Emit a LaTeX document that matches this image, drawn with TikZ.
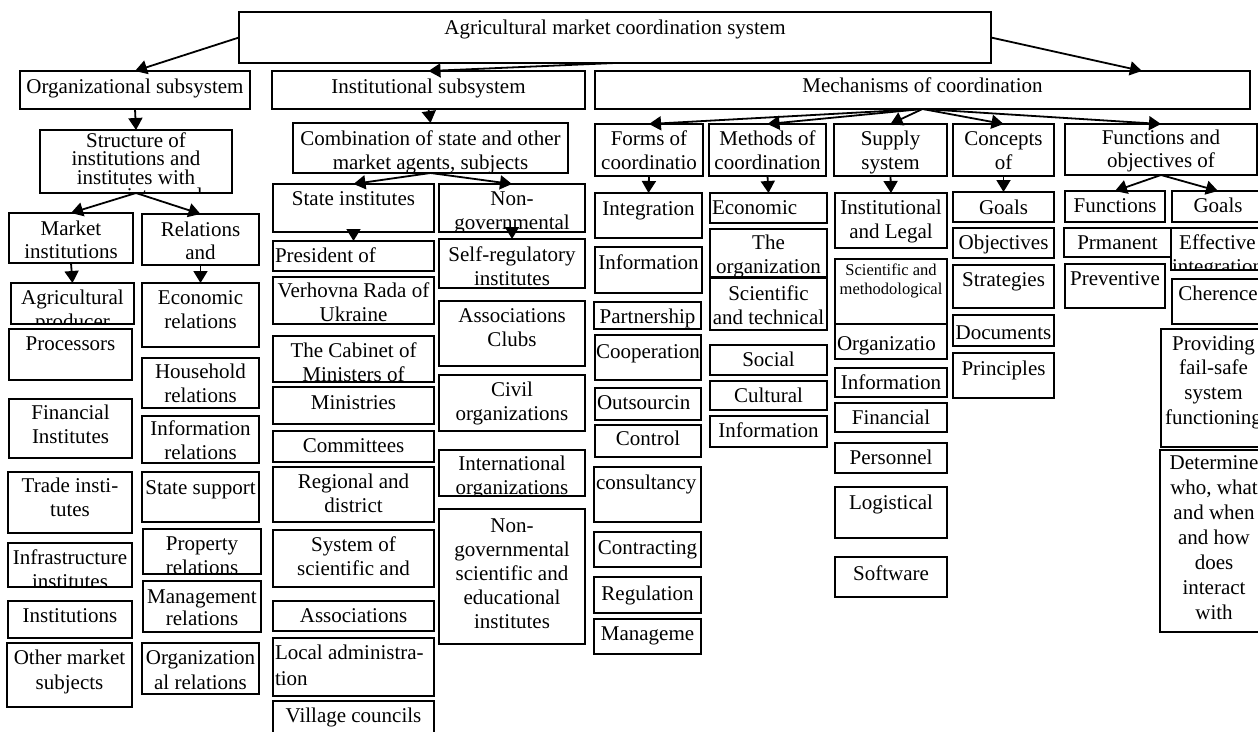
\documentclass[tikz,border=0pt]{standalone}
\usepackage{fontspec}
\setmainfont{Liberation Serif}
\usetikzlibrary{arrows.meta,calc}
\tikzset{
 boxst/.style={draw=black, line width=1.8pt, inner sep=0pt, outer sep=0pt},
 txt/.style={inner sep=0pt, outer sep=0pt, align=center, font=\fontsize{21}{24}\selectfont},
 arr/.style={line width=1.8pt, -{Triangle[length=12pt,width=14pt]}},
}
% #1 text options, #2 name, #3 x1, #4 y1, #5 x2, #6 y2, #7 first-line centre y, #8 text
\newcommand\bx[8][]{%
  \node[boxst, minimum width={#5-#3}, minimum height={#6-#4}, anchor=north west] (#2) at (#3,#4) {};
  \begin{scope}
    \clip (#2.south west) rectangle (#2.north east);
    \node[txt, anchor=north, #1] (#2-t) at ({(#3+#5)/2},{#7-8}) {\rule{0pt}{15pt}#8};
  \end{scope}}
\newcommand\bxl[8][]{%
  \node[boxst, minimum width={#5-#3}, minimum height={#6-#4}, anchor=north west] (#2) at (#3,#4) {};
  \begin{scope}
    \clip (#2.south west) rectangle (#2.north east);
    \node[txt, anchor=north west, align=left, #1] (#2-t) at ({#3+2},{#7-8}) {\rule{0pt}{15pt}#8};
  \end{scope}}
\begin{document}
\begin{tikzpicture}[x=1pt,y=-1pt]
\useasboundingbox[fill=white] (0,0) rectangle (1258,731);
% top levels
\bx{top}{239}{12}{991}{63}{27}{Agricultural market coordination system}
\bx{org}{20}{71}{250}{109}{86}{Organizational subsystem}
\bx{inst}{272}{71}{585}{109}{86}{Institutional subsystem}
\bx{mech}{595}{71}{1250}{109}{85}{Mechanisms of coordination}
% second level
\bx[font=\fontsize{21}{18.5}\selectfont]{struct}{40}{130}{232}{193}{140}{Structure of\\institutions and\\institutes with\\appropriate needs}
\bx{comb}{293}{123}{568}{173}{138}{Combination of state and other\\market agents, subjects}
\bx{forms}{595}{124}{703}{176}{138}{Forms of\\coordinatio}
\bx{meth}{709}{124}{826}{176}{138}{Methods of\\coordination}
\bx{supply}{834}{124}{947}{176}{138}{Supply\\system}
\bx{conc}{953}{124}{1054}{176}{138}{Concepts\\of}
\bx[font=\fontsize{21}{23}\selectfont]{func}{1065}{124}{1257}{175}{137}{Functions and\\objectives of}
% organizational column
\bx[font=\fontsize{21}{23}\selectfont]{mkt}{9}{213}{133}{263}{228}{Market\\institutions}
\bx[font=\fontsize{21}{23}\selectfont]{rel}{142}{214}{259}{265}{229}{Relations\\and}
\bx{agri}{11}{283}{134}{324}{297}{Agricultural\\producer}
\bx{econrel}{142}{283}{259}{347}{297}{Economic\\relations}
\bx{proc}{9}{329}{132}{380}{343}{Processors}
\bx{house}{142}{358}{259}{408}{371}{Household\\relations}
\bx{fin}{9}{399}{132}{458}{412}{Financial\\Institutes}
\bx{inforel}{142}{416}{259}{463}{428}{Information\\relations}
\bx{trade}{8}{472}{132}{533}{485}{Trade insti-\\tutes}
\bx{statesup}{142}{472}{259}{522}{487}{State support}
\bx{infra}{8}{543}{132}{587}{557}{Infrastructure\\institutes}
\bx{prop}{143}{529}{261}{574}{543}{Property\\relations}
\bx[font=\fontsize{21}{22}\selectfont]{mgmt}{143}{581}{261}{632}{596}{Management\\relations}
\bx{instn}{8}{601}{132}{638}{615}{Institutions}
\bx[font=\fontsize{21}{25}\selectfont]{other}{7}{643}{132}{707}{657}{Other market\\subjects}
\bx[font=\fontsize{21}{25}\selectfont]{orgrel}{142}{643}{259}{694}{657}{Organization\\al relations}
% institutional column
\bx{statei}{273}{184}{434}{232}{198}{State institutes}
\bx{nongov}{439}{184}{585}{232}{198}{Non-\\governmental}
\bxl{pres}{273}{241}{434}{271}{255}{President of}
\bx{selfreg}{439}{239}{585}{288}{254}{Self-regulatory\\institutes}
\bx{verh}{273}{277}{434}{324}{290}{Verhovna Rada of\\Ukraine}
\bx{assoc}{439}{301}{585}{366}{315}{Associations\\Clubs}
\bx{cab}{273}{336}{434}{382}{350}{The Cabinet of\\Ministers of}
\bx{civil}{439}{375}{585}{431}{389}{Civil\\organizations}
\bx{minis}{273}{387}{434}{424}{402}{Ministries}
\bx{comm}{273}{431}{434}{462}{445}{Committees}
\bx{intl}{439}{450}{585}{496}{463}{International\\organizations}
\bx{regio}{273}{467}{434}{522}{481}{Regional and\\district}
\bx{ngsci}{439}{509}{585}{644}{525}{Non-\\governmental\\scientific and\\educational\\institutes}
\bx{sys}{273}{530}{434}{587}{544}{System of\\scientific and}
\bx{assoc2}{273}{601}{434}{631}{615}{Associations}
\bxl[font=\fontsize{21}{26}\selectfont]{local}{273}{638}{434}{696}{652}{Local administra-\\tion}
\bx{village}{273}{701}{434}{745}{715}{Village councils}
% forms column
\bx{integ}{595}{193}{702}{238}{208}{Integration}
\bx{inform}{595}{247}{702}{293}{262}{Information}
\bx{partner}{594}{302}{701}{329}{316}{Partnership}
\bx{coop}{595}{335}{701}{380}{351}{Cooperation}
\bxl{outs}{595}{388}{701}{420}{402}{Outsourcin}
\bx{ctrl}{595}{425}{701}{457}{438}{Control}
\bxl{cons}{594}{467}{701}{522}{482}{consultancy}
\bx{contr}{594}{532}{701}{567}{547}{Contracting}
\bx{regul}{594}{577}{701}{613}{593}{Regulation}
\bx{manag}{594}{619}{701}{654}{633}{Manageme}
% methods column
\bxl{econ}{710}{193}{827}{223}{207}{Economic}
\bx{theorg}{710}{229}{827}{277}{242}{The\\organization}
\bx{scitech}{710}{278}{827}{330}{293}{Scientific\\and technical}
\bx{social}{710}{345}{827}{375}{359}{Social}
\bx{cult}{710}{381}{827}{410}{395}{Cultural}
\bx{infom}{710}{416}{827}{447}{430}{Information}
% supply column
\bx{instleg}{835}{193}{947}{248}{207}{Institutional\\and Legal}
\bx[font=\fontsize{16.5}{19}\selectfont]{scimeth}{835}{259}{947}{324}{268}{Scientific and\\methodological}
\bxl{organiz}{835}{324}{947}{359}{343}{Organizatio}
\bx{infos}{835}{368}{947}{397}{382}{Information}
\bx{finan}{835}{403}{947}{432}{417}{Financial}
\bx{pers}{835}{443}{947}{473}{457}{Personnel}
\bx{logis}{835}{487}{947}{538}{502}{Logistical}
\bx{soft}{835}{557}{947}{597}{573}{Software}
% concepts column
\bx{goalsc}{953}{192}{1054}{222}{207}{Goals}
\bx{objs}{953}{228}{1054}{258}{242}{Objectives}
\bx{strat}{953}{265}{1054}{308}{279}{Strategies}
\bx{docs}{953}{315}{1054}{346}{332}{Documents}
\bx{princ}{953}{353}{1054}{398}{368}{Principles}
% functions column
\bx{functions}{1065}{191}{1165}{222}{205}{Functions}
\bx{goalsf}{1172}{191}{1264}{222}{205}{Goals}
\bx{perm}{1064}{228}{1171}{257}{242}{Prmanent}
\bx{effect}{1171}{228}{1264}{270}{242}{Effective\\integration}
\bx{prev}{1065}{264}{1165}{308}{278}{Preventive}
\bx{cher}{1172}{279}{1264}{324}{293}{Cherence}
\bx[font=\fontsize{21}{24.7}\selectfont]{provid}{1161}{329}{1266}{447}{343}{Providing\\fail-safe\\system\\functioning}
\bx[font=\fontsize{21}{25}\selectfont]{determ}{1160}{450}{1268}{632}{462}{Determine\\who, what\\and when\\and how\\does\\interact\\with}
% connectors
\draw[arr] (top.west) -- (org.north);
\draw[arr] (top.south) -- (inst.north);
\draw[arr] (top.east) -- ($(mech.north west)!0.835!(mech.north east)$);
\draw[arr] (org.south) -- (struct.north);
\draw[arr] (inst.south) -- (comb.north);
\draw[arr] (struct.south) -- (mkt.north);
\draw[arr] (struct.south) -- (rel.north);
\draw[arr] (mkt.south) -- (agri.north);
\draw[arr] (rel.south) -- (econrel.north);
\draw[arr] (comb.south) -- (statei.north);
\draw[arr] (comb.south) -- (nongov.north);
\draw[arr] (statei.south) -- (pres.north);
\draw[arr] (nongov.south) -- (selfreg.north);
\draw[arr] (mech.south) -- (forms.north);
\draw[arr] (mech.south) -- (meth.north);
\draw[arr] (mech.south) -- (supply.north);
\draw[arr] (mech.south) -- (conc.north);
\draw[arr] (mech.south) -- (func.north);
\draw[arr] (forms.south) -- (integ.north);
\draw[arr] (meth.south) -- (econ.north);
\draw[arr] (supply.south) -- (instleg.north);
\draw[arr] (conc.south) -- (goalsc.north);
\draw[arr] (func.south) -- (functions.north);
\draw[arr] (func.south) -- (goalsf.north);
\end{tikzpicture}
\end{document}
